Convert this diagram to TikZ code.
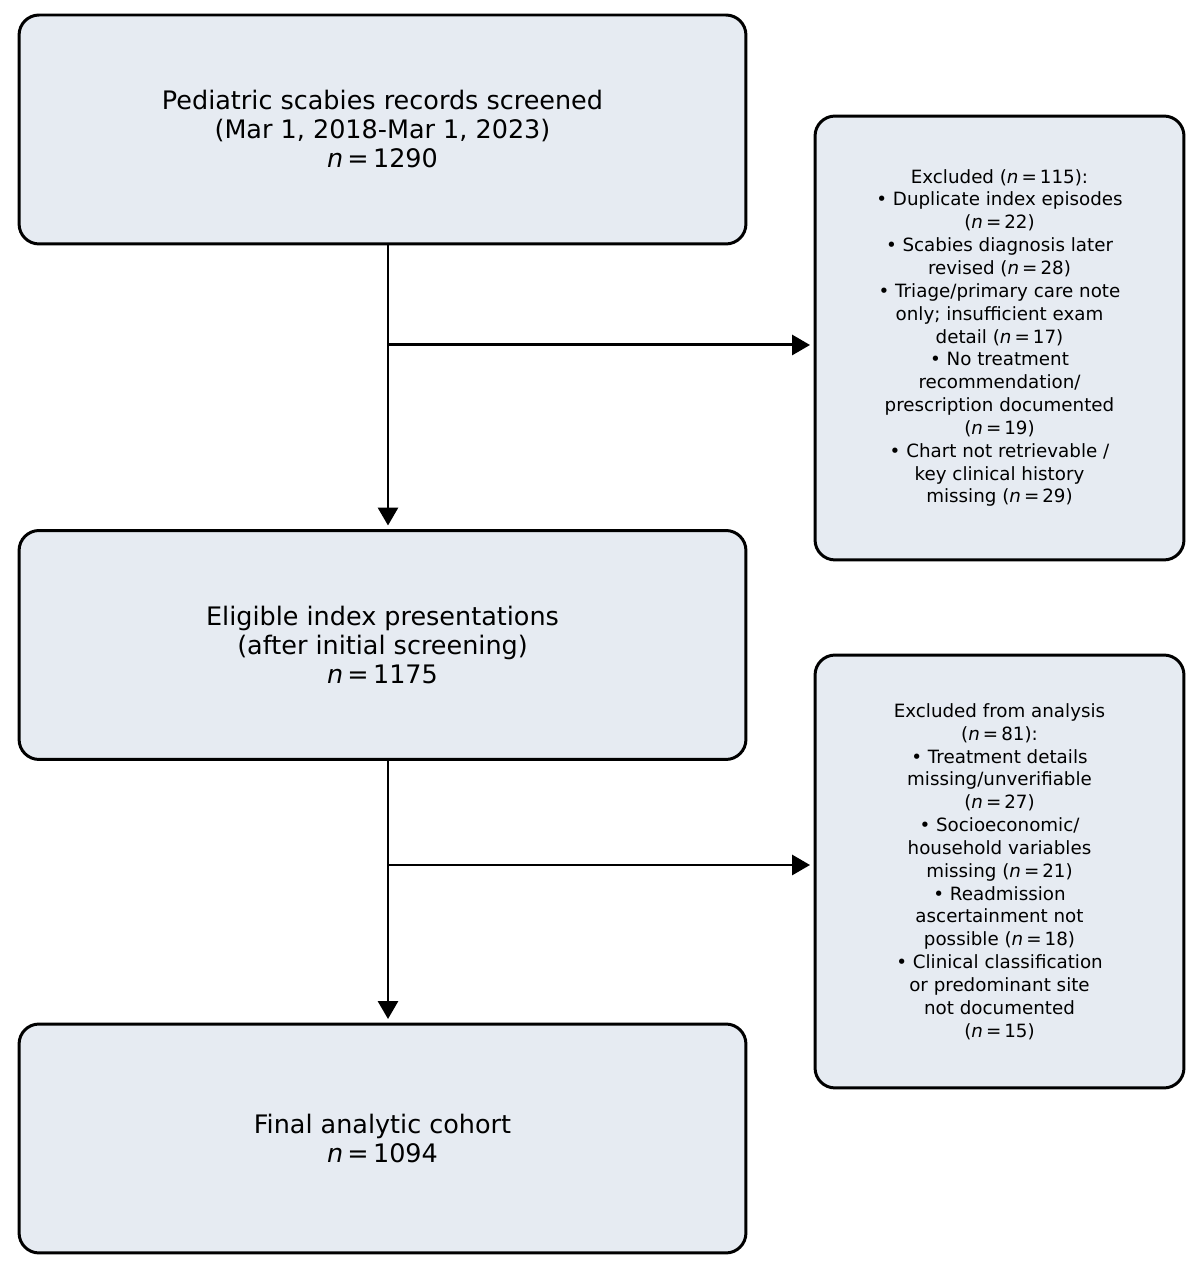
\documentclass[tikz,border=0pt]{standalone}
\usepackage{fontspec}
\setmainfont{DejaVu Sans}
\usetikzlibrary{arrows.meta}
\definecolor{boxfill}{RGB}{230,235,242}
\newcommand{\ncount}[1]{\textit{n}\,=\,#1}

\begin{document}
\begin{tikzpicture}[x=0.02cm,y=0.02cm,
	stagebox/.style={draw,line width=1.7pt,rounded corners=0.4cm,fill=boxfill,align=center,
		minimum width=14.54cm,minimum height=4.58cm,font=\fontsize{14.5}{16.5}\selectfont},
	exclbox/.style={draw,line width=1.7pt,rounded corners=0.4cm,fill=boxfill,align=center,
		minimum width=7.38cm,font=\fontsize{10.4}{13}\selectfont},
	flowarr/.style={line width=1.7pt,-{Triangle[length=0.36cm,width=0.4cm]},shorten >=0.07cm}]
	
	\useasboundingbox (0,0) rectangle (1200,1271);
	
	\node[stagebox] (screened) at (382.5,1141.5) {Pediatric scabies records screened\\(Mar 1, 2018-Mar 1, 2023)\\\ncount{1290}};
	
	\node[stagebox] (eligible) at (382.5,626) {Eligible index presentations\\(after initial screening)\\\ncount{1175}};
	
	\node[stagebox] (cohort) at (382.5,132.5) {Final analytic cohort\\\ncount{1094}};
	
	\node[exclbox,minimum height=8.88cm] (exclA) at (999.5,933) {Excluded (\ncount{115}):\\• Duplicate index episodes\\(\ncount{22})\\• Scabies diagnosis later\\revised (\ncount{28})\\• Triage/primary care note\\only; insufficient exam\\detail (\ncount{17})\\• No treatment\\recommendation/\\prescription documented\\(\ncount{19})\\• Chart not retrievable /\\key clinical history\\missing (\ncount{29})};
	
	\node[exclbox,minimum height=8.66cm] (exclB) at (999.5,399.5) {Excluded from analysis\\(\ncount{81}):\\• Treatment details\\missing/unverifiable\\(\ncount{27})\\• Socioeconomic/\\household variables\\missing (\ncount{21})\\• Readmission\\ascertainment not\\possible (\ncount{18})\\• Clinical classification\\or predominant site\\not documented\\(\ncount{15})};
	
	\coordinate (splitA) at (388,926);
	\coordinate (splitB) at (388,406);
	
	\draw[flowarr] (splitA |- screened.south) -- (splitA |- eligible.north);
	\draw[flowarr] (splitA) -- (splitA -| exclA.west);
	
	\draw[flowarr] (splitB |- eligible.south) -- (splitB |- cohort.north);
	\draw[flowarr] (splitB) -- (splitB -| exclB.west);
\end{tikzpicture}
\end{document}
